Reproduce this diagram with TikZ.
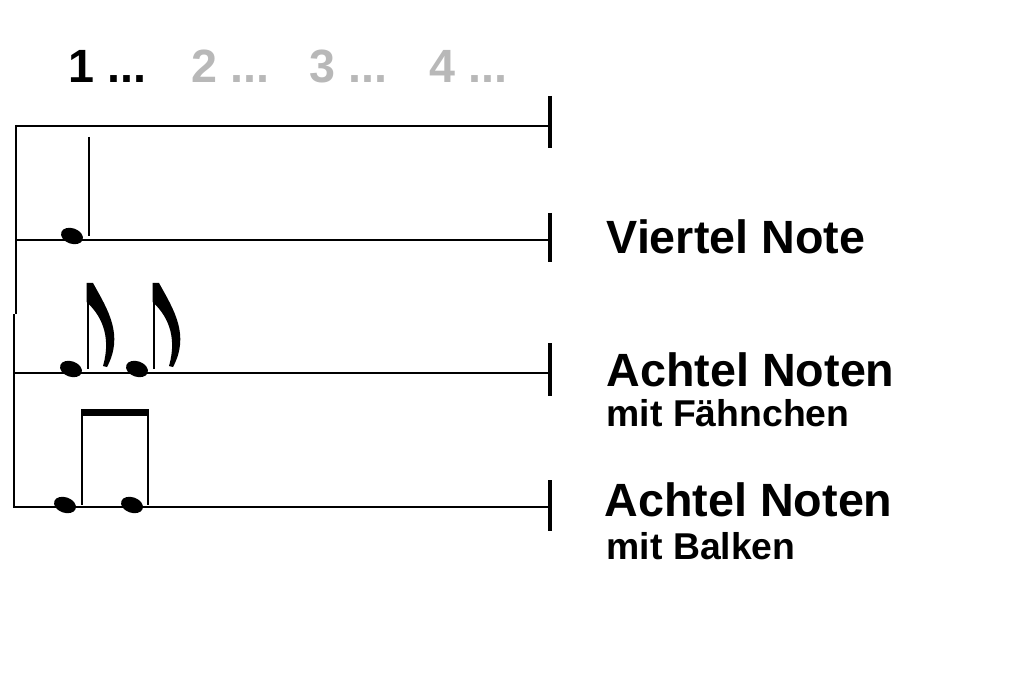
\documentclass[tikz,border=0pt]{standalone}
\usepackage{fontspec}
\setmainfont{Liberation Sans}
\begin{document}
\begin{tikzpicture}[x=0.75pt,y=-0.75pt,
  staff/.style={line width=2pt},
  bar/.style={line width=3pt},
  nhead/.style={x radius=8.5pt,y radius=5.8pt},
  stemline/.style={line width=2.2pt},
  big/.style={font=\fontsize{35}{38}\selectfont\bfseries,anchor=west},
  small/.style={font=\fontsize{28}{30}\selectfont\bfseries,anchor=west},
  count/.style={font=\fontsize{35}{38}\selectfont\bfseries,anchor=west}]
\useasboundingbox (0,0) rectangle (1024,695);
\foreach \y/\a/\b in {126/96/148,240/213/262,373/343/396,507/480/531}{
  \draw[staff] (15,\y) -- (550,\y);
  \draw[bar] (550,\a) -- (550,\b);
}
\draw[staff] (16,125) -- (16,314);
\draw[staff] (14,314) -- (14,508);
% quarter note
\fill[rotate around={-20:(72,236)}] (72,236) ellipse [nhead];
\draw[stemline] (89,137) -- (89,236);
% eighth notes with flags
\foreach \dx in {0,66}{
  \begin{scope}[xshift=\dx*0.75pt]
  \fill[rotate around={-20:(71,369)}] (71,369) ellipse [nhead];
  \draw[stemline] (88,283) -- (88,369);
  \fill (86.5,283) -- (86.5,302) .. controls (100,314) and (112,335) .. (103,366)
     -- (107,367) .. controls (124,335) and (108,310) .. (93,283) -- cycle;
  \end{scope}
}
% beamed notes
\fill[rotate around={-20:(65,505)}] (65,505) ellipse [nhead];
\fill[rotate around={-20:(132,505)}] (132,505) ellipse [nhead];
\draw[stemline] (82,411) -- (82,505);
\draw[stemline] (148,411) -- (148,505);
\fill (81,409) rectangle (149,416);
% texts
\node[count] (c1) at (64,66) {1 ...};
\node[count,text=black!28] (c2) at (187,66) {2 ...};
\node[count,text=black!28] (c3) at (305,66) {3 ...};
\node[count,text=black!28] (c4) at (425,66) {4 ...};
\node[big] (l1) at (602,237) {Viertel Note};
\node[big] (l2) at (602,370) {Achtel Noten};
\node[small] (l2b) at (602,413) {mit Fähnchen};
\node[big] (l3) at (600,500) {Achtel Noten};
\node[small] (l3b) at (602,546) {mit Balken};
\end{tikzpicture}
\end{document}
